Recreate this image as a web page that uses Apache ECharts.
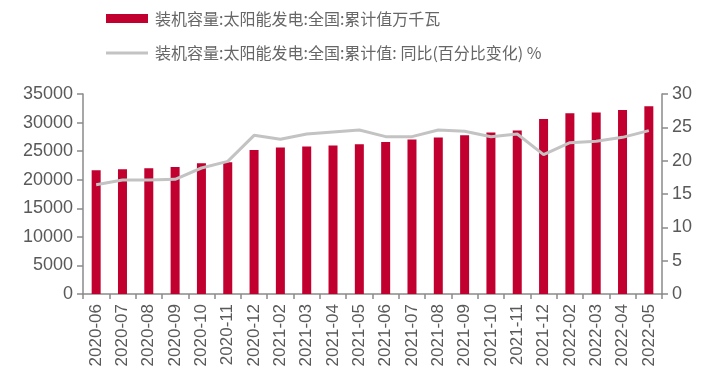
<!DOCTYPE html>
<html>
<head>
<meta charset="utf-8">
<script src="https://cdn.jsdelivr.net/npm/echarts@6/dist/echarts.min.js"></script>
<style>html,body{margin:0;padding:0;background:#fff;}#c{width:708px;height:390px;}</style>
</head>
<body>
<div id="c"></div>
<script>
var categories = ['2020-06','2020-07','2020-08','2020-09','2020-10','2020-11','2020-12',
  '2021-02','2021-03','2021-04','2021-05','2021-06','2021-07','2021-08','2021-09','2021-10','2021-11','2021-12',
  '2022-02','2022-03','2022-04','2022-05'];
var capacity = [21650, 21830, 22000, 22240, 22880, 23060, 25220, 25640, 25810, 25990, 26220,
  26620, 27040, 27390, 27800, 28270, 28620, 30610, 31610, 31780, 32190, 32840];
var yoy = [16.4, 17.1, 17.1, 17.2, 18.9, 19.9, 23.8, 23.2, 24.0, 24.3, 24.6,
  23.6, 23.6, 24.6, 24.4, 23.6, 24.0, 20.9, 22.7, 22.9, 23.5, 24.5];
var leftTicks = {min: 0, max: 35000, interval: 5000};
var rightTicks = {min: 0, max: 30, interval: 5};
var barName = '装机容量:太阳能发电:全国:累计值万千瓦';
var lineName = '装机容量:太阳能发电:全国:累计值: 同比(百分比变化) %';

var axisColor = '#8a8a8a';
var labelColor = '#595959';
var legendText = {fontFamily: 'Noto Sans CJK SC', fontSize: 16, color: '#666666', lineHeight: 18, padding: [0,0,0,2]};
var chart = echarts.init(document.getElementById('c'), null, {renderer: 'canvas'});
chart.setOption({
  animation: false,
  backgroundColor: '#ffffff',
  legend: [{
    data: [{name: barName, icon: 'rect'}], left: 106, top: 9.5, itemWidth: 42, itemHeight: 9, itemGap: 0,
    textStyle: legendText, padding: 0
  }, {
    data: [{name: lineName, icon: 'rect'}], left: 106, top: 44, itemWidth: 42, itemHeight: 3, itemGap: 0,
    textStyle: legendText, padding: 0
  }],
  grid: {left: 83, right: 46, top: 94, bottom: 96, containLabel: false},
  xAxis: {
    type: 'category', data: categories,
    axisLine: {lineStyle: {color: axisColor, width: 1.5}},
    axisTick: {show: true, alignWithLabel: false, length: 5, lineStyle: {color: axisColor, width: 1.5}},
    axisLabel: {rotate: 90, interval: 0, margin: 10, fontFamily: 'Liberation Sans', fontSize: 17, color: labelColor}
  },
  yAxis: [{
    type: 'value', min: leftTicks.min, max: leftTicks.max, interval: leftTicks.interval,
    axisLine: {show: true, lineStyle: {color: axisColor, width: 1.5}},
    axisTick: {show: true, length: 6, lineStyle: {color: axisColor, width: 1.5}},
    splitLine: {show: false},
    axisLabel: {margin: 10, fontFamily: 'Liberation Sans', fontSize: 18, color: labelColor,
      formatter: function (v) { return String(v); }}
  }, {
    type: 'value', min: rightTicks.min, max: rightTicks.max, interval: rightTicks.interval, position: 'right',
    axisLine: {show: true, lineStyle: {color: axisColor, width: 1.5}},
    axisTick: {show: true, length: 6, lineStyle: {color: axisColor, width: 1.5}},
    splitLine: {show: false},
    axisLabel: {margin: 10, fontFamily: 'Liberation Sans', fontSize: 18, color: labelColor,
      formatter: function (v) { return String(v); }}
  }],
  series: [{
    name: barName, type: 'bar', data: capacity, yAxisIndex: 0, barWidth: 9,
    itemStyle: {color: '#C1002F'}
  }, {
    name: lineName, type: 'line', data: yoy, yAxisIndex: 1, symbol: 'none', smooth: false,
    lineStyle: {color: '#C3C3C3', width: 3}, itemStyle: {color: '#C3C3C3'}
  }]
});
</script>
</body>
</html>
